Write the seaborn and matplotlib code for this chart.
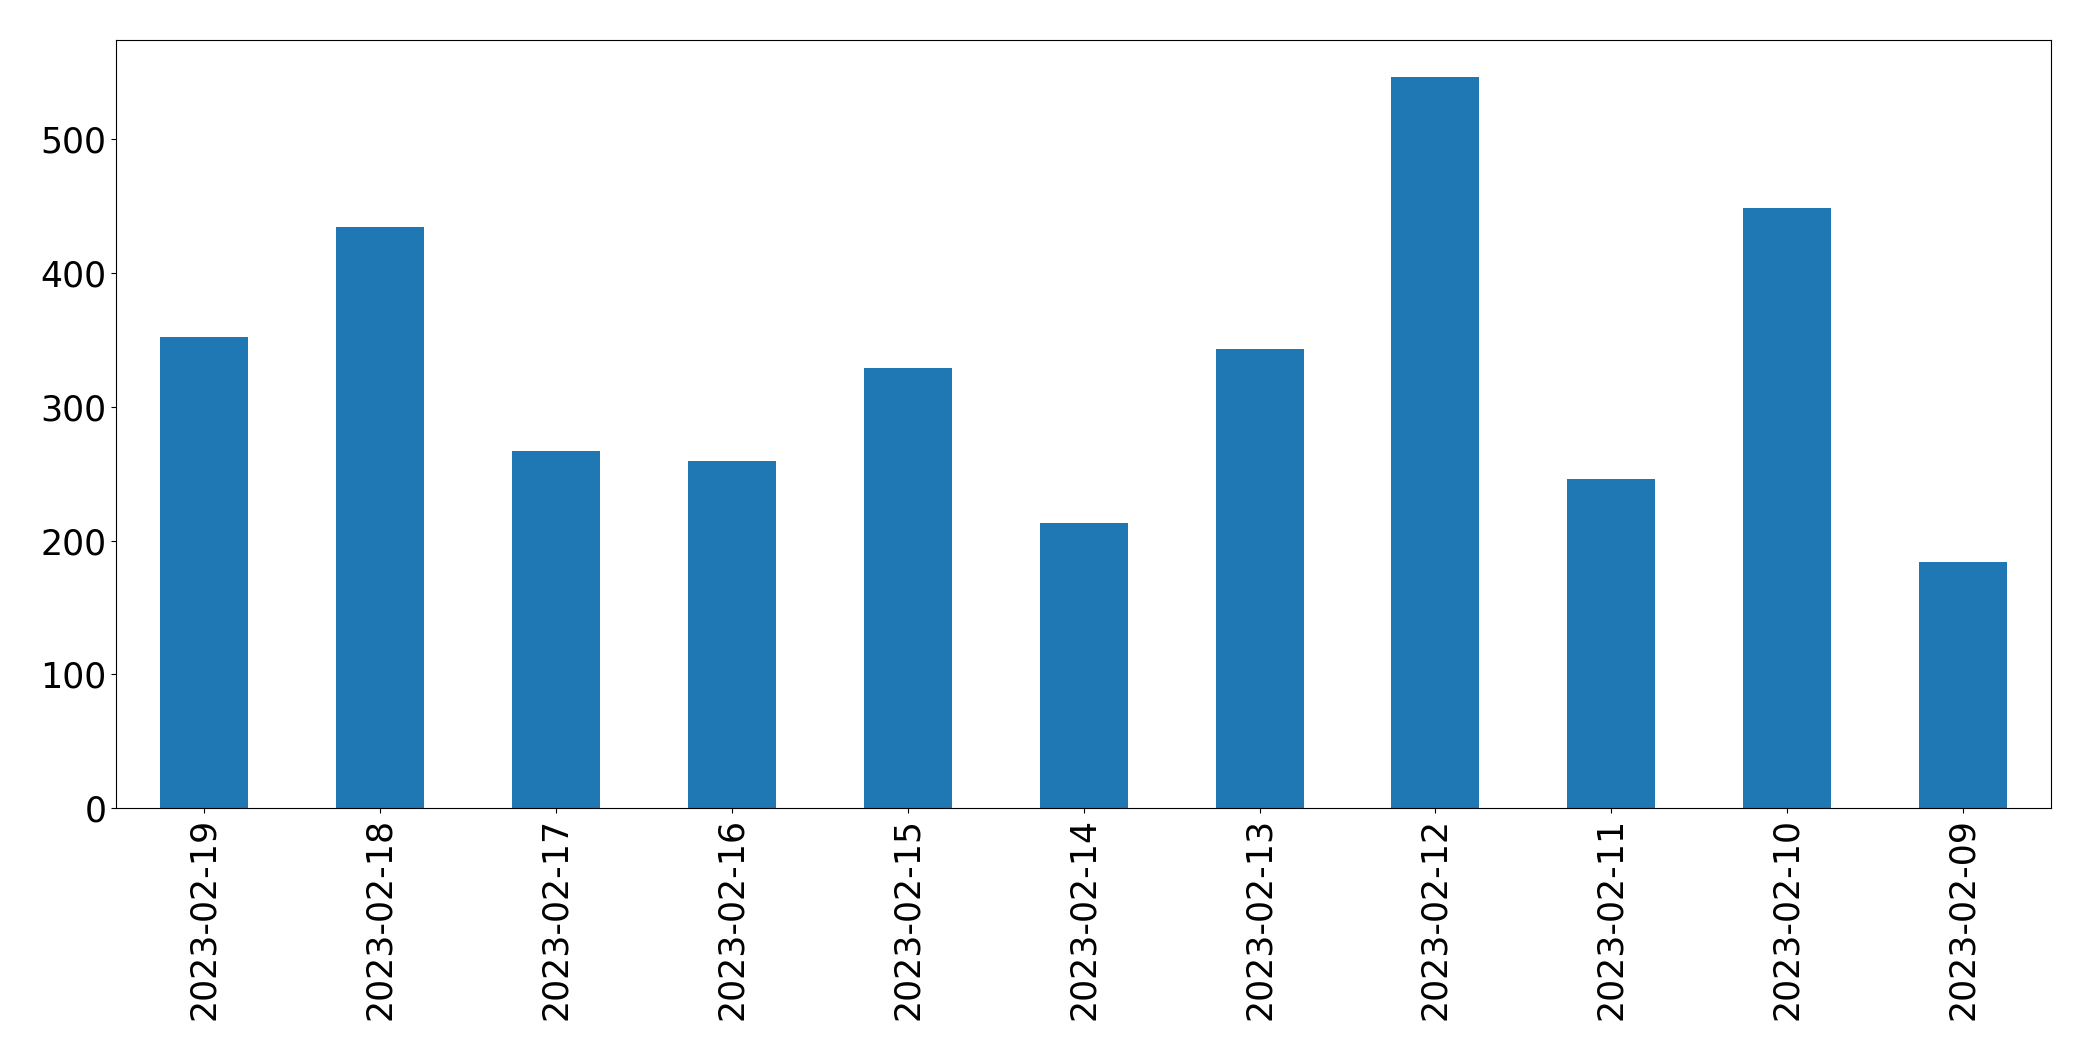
import pandas as pd
import seaborn as sns
import matplotlib
matplotlib.use("Agg")
import matplotlib.pyplot as plt

# values
dates = ["2023-02-19", "2023-02-18", "2023-02-17", "2023-02-16", "2023-02-15",
         "2023-02-14", "2023-02-13", "2023-02-12", "2023-02-11", "2023-02-10",
         "2023-02-09"]
counts = [352, 434, 267, 259, 329, 213, 343, 546, 246, 448, 184]

df = pd.DataFrame({"date": dates, "count": counts})

fig = plt.figure(figsize=(20.93, 10.61), dpi=100)
ax = fig.add_axes([0.0555, 0.238, 0.9245, 0.724])
sns.barplot(data=df, x="date", y="count", color="#1f77b4", saturation=1,
            width=0.5, ax=ax)

ax.set_xlim(-0.5, len(dates) - 0.5)
ax.set_ylim(0, max(counts) * 1.05)
ax.set_xlabel("")
ax.set_ylabel("")
ax.tick_params(axis="both", labelsize=25)
plt.setp(ax.get_xticklabels(), rotation=90)

fig.savefig("out.png", dpi=100)
